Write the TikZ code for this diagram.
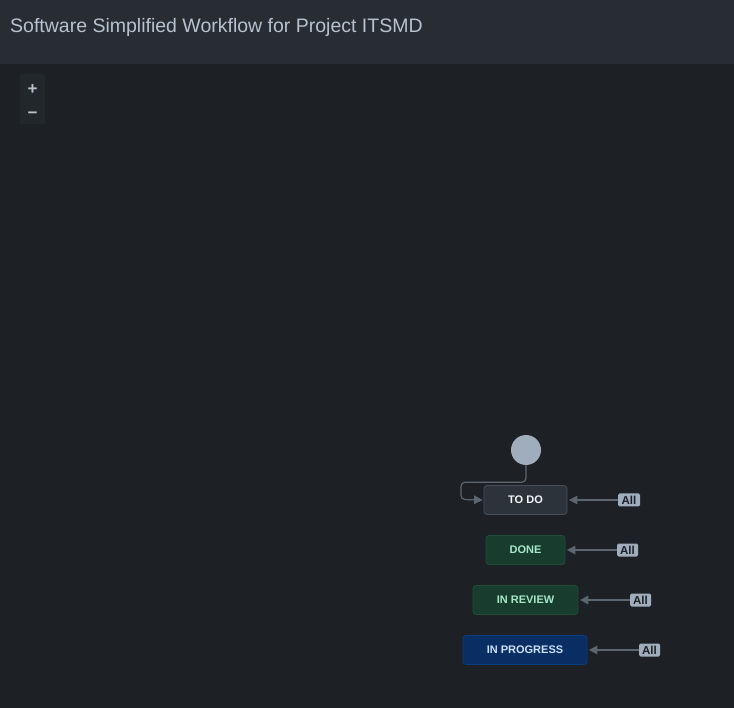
\documentclass[tikz,border=0pt]{standalone}
\usepackage{fontspec}
\setmainfont{Liberation Sans}
\usetikzlibrary{arrows.meta}
\definecolor{bg}{HTML}{1D2125}
\definecolor{hdr}{HTML}{282D34}
\definecolor{txt}{HTML}{B6C2CF}
\definecolor{zoombg}{HTML}{22272B}
\definecolor{todofill}{HTML}{2C333A}
\definecolor{todoline}{HTML}{454F59}
\definecolor{greenfill}{HTML}{183D2E}
\definecolor{greenline}{HTML}{1F4D38}
\definecolor{greentxt}{HTML}{A6E8C8}
\definecolor{bluefill}{HTML}{082E63}
\definecolor{blueline}{HTML}{0C3D80}
\definecolor{bluetxt}{HTML}{CCE0FF}
\definecolor{startc}{HTML}{9FADBC}
\definecolor{conn}{HTML}{5B6670}
\definecolor{alltxt}{HTML}{1D2125}
\tikzset{
  status/.style={rounded corners=3pt, line width=0.8pt, minimum height=29pt, inner sep=0pt,
    font=\fontsize{11}{13}\selectfont\bfseries},
  allbox/.style={fill=startc, rounded corners=1.5pt, inner sep=0pt, minimum height=13pt,
    text=alltxt, font=\fontsize{11.5}{13}\selectfont\bfseries},
  conn/.style={draw=conn, line width=1.2pt, -{Triangle[length=8.5pt,width=8.5pt]}},
}
\begin{document}
\begin{tikzpicture}[x=1pt,y=-1pt]
\useasboundingbox (0,0) rectangle (734,708);
\fill[bg] (0,0) rectangle (734,708);
\fill[hdr] (0,0) rectangle (734,64);
\node[anchor=base west, text=txt, font=\fontsize{19.5}{24}\selectfont, inner sep=0pt] (title) at (10,32.5) {Software Simplified Workflow for Project ITSMD};
% zoom controls
\fill[zoombg, rounded corners=2pt] (20,74) rectangle (45,124);
\node[text=txt, font=\fontsize{17}{19}\selectfont\bfseries, inner sep=0pt] (plus) at (32.5,90) {+};
\node[text=txt, font=\fontsize{17}{19}\selectfont\bfseries, inner sep=0pt] (minus) at (32.5,115) {−};
% start
\node[circle, fill=startc, minimum size=30pt, inner sep=0pt] (start) at (526,450) {};
% statuses
\node[status, draw=todoline, fill=todofill, text=white!85!txt, minimum width=83pt] (todo) at (525.5,500) {TO DO};
\node[status, draw=greenline, fill=greenfill, text=greentxt, minimum width=79pt] (done) at (525.5,550) {DONE};
\node[status, draw=greenline, fill=greenfill, text=greentxt, minimum width=105pt] (review) at (525.5,600) {IN REVIEW};
\node[status, draw=blueline, fill=bluefill, text=bluetxt, minimum width=124pt] (progress) at (525,650) {IN PROGRESS};
% All labels
\node[allbox, minimum width=22pt] (all1) at (629,500) {All};
\node[allbox, minimum width=21pt] (all2) at (627.5,550) {All};
\node[allbox, minimum width=21pt] (all3) at (640.5,600) {All};
\node[allbox, minimum width=21pt] (all4) at (649.5,650) {All};
% connectors
\draw[conn, rounded corners=4pt] (start.south) -- ++(0,17) -| (461,499.5) -- ([xshift=-1pt]todo.west);
\draw[conn] (all1.west) -- ([xshift=1.5pt]todo.east);
\draw[conn] (all2.west) -- ([xshift=1.5pt]done.east);
\draw[conn] (all3.west) -- ([xshift=1.5pt]review.east);
\draw[conn] (all4.west) -- ([xshift=1.5pt]progress.east);
\end{tikzpicture}
\end{document}
